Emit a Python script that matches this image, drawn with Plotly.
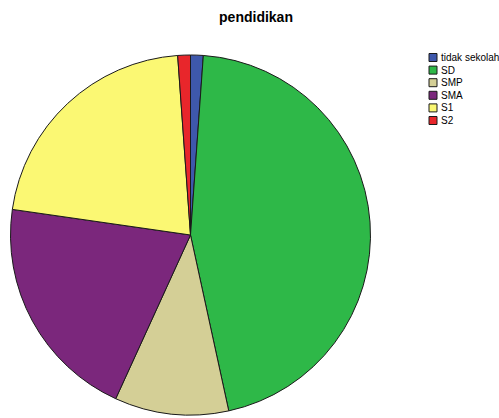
import plotly.graph_objects as go

# Education level counts
labels = ["tidak sekolah", "SD", "SMP", "SMA", "S1", "S2"]
counts = [1, 40, 9, 18, 19, 1]
colors = ["#3e58ac", "#2eb848", "#d4cf96", "#7b277c", "#fbf873", "#e8262b"]

W, H = 499, 418
cx, cy, r = 190.5, 235.0, 180.0

fig = go.Figure(go.Pie(
    labels=labels,
    values=counts,
    sort=False,
    direction="clockwise",
    rotation=0,
    marker=dict(colors=colors, line=dict(color="#1a1a1a", width=1)),
    textinfo="none",
    hoverinfo="label+value+percent",
    showlegend=False,
    domain=dict(x=[(cx - r) / W, (cx + r) / W], y=[(H - cy - r) / H, (H - cy + r) / H]),
))

# Legend drawn as swatches plus text
shapes, annotations = [], []
lx, ly0, step, sz = 429, 57.5, 12.6, 8
for i, (lab, col) in enumerate(zip(labels, colors)):
    yc = ly0 + i * step
    shapes.append(dict(type="rect", xref="paper", yref="paper",
                       x0=lx / W, x1=(lx + sz) / W,
                       y0=1 - (yc + sz / 2) / H, y1=1 - (yc - sz / 2) / H,
                       fillcolor=col, line=dict(color="#1a1a1a", width=1)))
    annotations.append(dict(text=lab, xref="paper", yref="paper",
                            x=(lx + sz + 2) / W, y=1 - yc / H,
                            xanchor="left", yanchor="middle", showarrow=False,
                            font=dict(family="Liberation Sans, Arial", size=10, color="#000")))

fig.update_layout(
    width=W, height=H,
    margin=dict(l=0, r=0, t=0, b=0),
    paper_bgcolor="white",
    plot_bgcolor="white",
    title=dict(text="<b>pendidikan</b>", x=256 / W, y=1 - 17 / H,
               xanchor="center", yanchor="middle",
               font=dict(family="Liberation Sans, Arial", size=14, color="#000")),
    shapes=shapes,
    annotations=annotations,
)

fig.write_html("out.html")
